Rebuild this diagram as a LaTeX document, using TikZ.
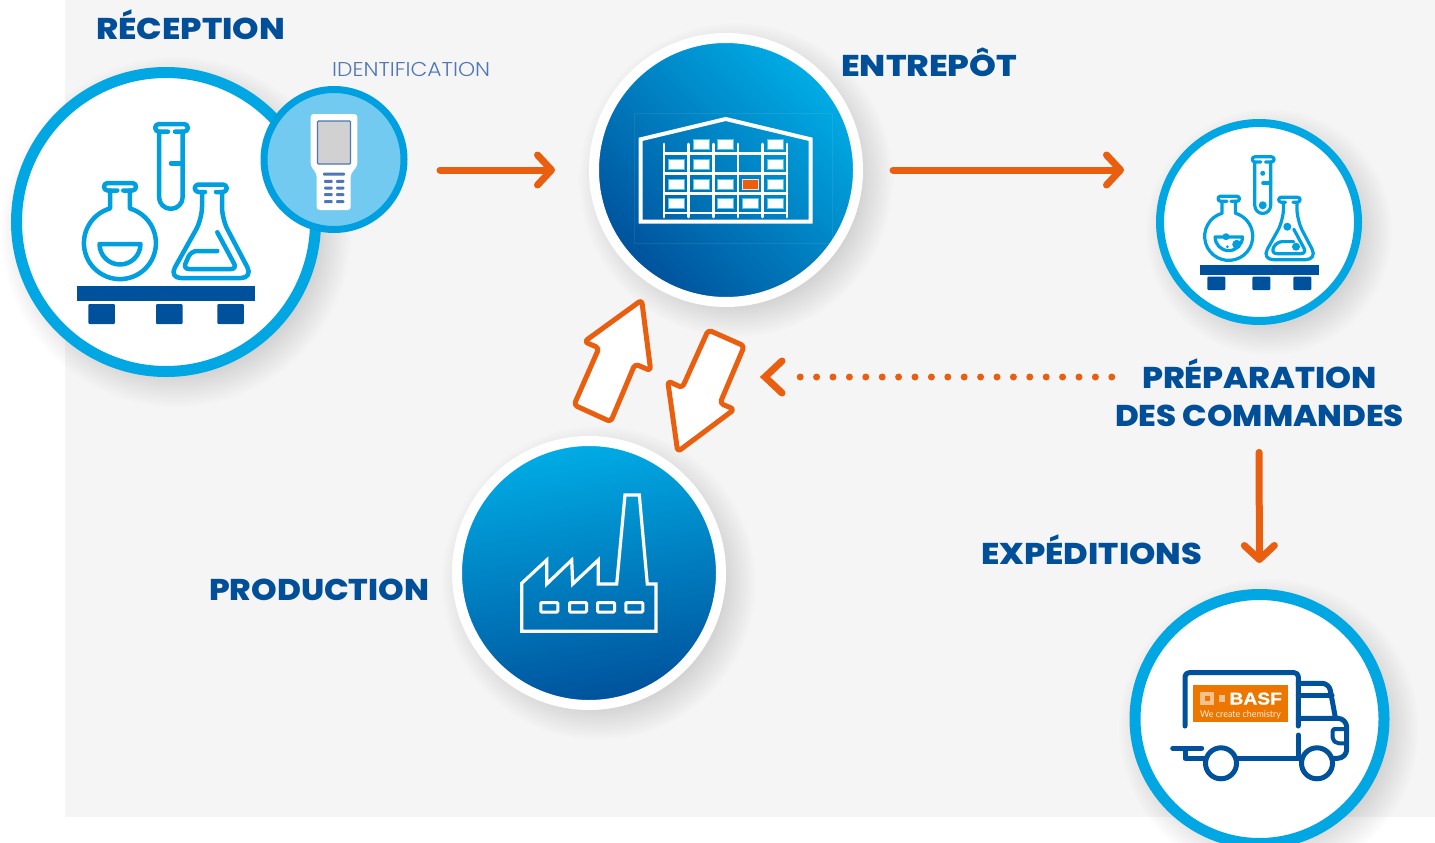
\documentclass[tikz,border=0pt]{standalone}
\usepackage{graphicx}
\usepackage{fontspec}
\setmainfont{Poppins}
\newfontfamily\headfont{Poppins}[UprightFont=* ExtraBold]
\newfontfamily\lightfont{Poppins}[UprightFont=* Light]
\newfontfamily\chemfont{Lato}
\newfontfamily\logofont{Liberation Sans}[UprightFont=* Bold,FakeBold=1]
\usetikzlibrary{arrows.meta,calc}
\definecolor{bgc}{HTML}{F5F5F5}
\definecolor{cyanr}{HTML}{00A7E3}
\definecolor{navyb}{HTML}{00519B}
\definecolor{head}{HTML}{004F98}
\definecolor{orangef}{HTML}{EA5F0F}
\definecolor{handc}{HTML}{73CAF0}
\definecolor{handr}{HTML}{009FE0}
\definecolor{handk}{HTML}{4F76B5}
\definecolor{gradl}{HTML}{00ADE6}
\definecolor{logo}{HTML}{EC7600}
\newcommand{\fitw}[2]{\resizebox{#1pt}{\height}{#2}}
\tikzset{
  x=1pt,y=-1pt,
  headtext/.style={font=\headfont\fontsize{30}{30}\selectfont,text=head,anchor=base west,inner sep=0pt},
  ringcirc/.style={circle,draw=cyanr,fill=white,inner sep=0pt,outer sep=0pt},
  gradcirc/.style={circle,draw=white,line width=10pt,minimum size=264pt,inner sep=0pt,outer sep=0pt},
  flow/.style={draw=orangef,line width=7pt,line cap=round,-{Straight Barb[length=14pt,width=30pt,line width=7pt,round]}},
  blockarrow/.style={draw=orangef,fill=white,line width=5pt,rounded corners=3.5pt,line join=round},
  glass/.style={draw=handr,line cap=round,line join=round},
  wline/.style={draw=white,line cap=round,line join=miter},
  truckline/.style={draw=navyb,line width=5pt,line cap=round,line join=round},
  cratebox/.style={draw=gradl!70!white,fill=white,line width=1pt},
}
\newcommand{\softshadow}[3]{%
  \foreach \k in {0,2,...,34}{%
    \fill[black,opacity=.0075] (#1,#2) circle[radius=#3+20-\k];
  }%
}
\newcommand{\flasksicon}[1]{%
  \begin{scope}[glass,line width=#1]
    % tube
    \draw (168,131.7) -- (159,131.7) arc[start angle=90,end angle=270,radius=3.85] -- (184,124) arc[start angle=-90,end angle=90,radius=3.85] -- (175,131.7);
    \draw (159,131.7) -- (159,197) arc[start angle=180,end angle=0,radius=11.85] -- (182.7,131.7);
    \draw (171,163.3) -- (182.7,163.3);
    % round flask
    \draw (117.3,190.5) -- (107.7,190.5) arc[start angle=90,end angle=270,radius=3.75] -- (132.3,183) arc[start angle=-90,end angle=90,radius=3.75] -- (123.3,190.5);
    \draw (110,190.5) -- (110,208.5) arc[start angle=254,end angle=-74,radius=36] -- (130,190.5);
    \draw (99.5,244) -- (140.5,244) arc[start angle=0,end angle=180,radius=20.5] -- cycle;
    % erlenmeyer
    \draw (205,192) -- (198.5,192) arc[start angle=90,end angle=270,radius=3.75] -- (223,184.5) arc[start angle=-90,end angle=90,radius=3.75] -- (216,192);
    \draw[rounded corners=12pt] (202,192) -- (202,219) -- (169,278) -- (253,278) -- (222,219) -- (222,192);
    \draw[rounded corners=6pt] (217.3,232.3) -- (237,269) -- (183,269) -- (191,251) -- (217.3,251);
  \end{scope}
}
\begin{document}
\begin{tikzpicture}
\useasboundingbox (0,0) rectangle (1435,843);
\fill[bgc] (65,0) rectangle (1435,817);
% shadows
\softshadow{176}{232}{155}
\softshadow{736}{180}{137}
\softshadow{1269}{232}{103}
\softshadow{599}{583}{137}
\softshadow{1269}{729}{130}

% main circles
\node[ringcirc,line width=11pt,minimum size=299pt] (recv) at (166,222) {};
\node[gradcirc,top color=gradl,bottom color=navyb,shading angle=-45] (store) at (726,170) {};
\node[ringcirc,line width=8pt,minimum size=198pt] (prep) at (1259,222) {};
\node[gradcirc,top color=gradl,bottom color=navyb,shading angle=10] (prod) at (589,573) {};
\node[ringcirc,line width=11pt,minimum size=249pt] (ship) at (1259.5,719) {};

% identification circle
\node[circle,draw=handr,fill=handc,line width=7pt,minimum size=140pt,inner sep=0pt,outer sep=0pt] (idc) at (334,159.5) {};
\fill[white,rounded corners=3pt] (310.7,114) -- (357.3,114) -- (357.3,166) -- (350.7,174) -- (350.7,210) -- (316.7,210) -- (316.7,174) -- (310.7,166) -- cycle;
\filldraw[fill=black!18,draw=handk,line width=1.1pt,rounded corners=1pt] (317.5,121) rectangle (350.5,164);
\fill[handk,rounded corners=1pt] (323,172.6) rectangle (345,175.6);
\foreach \ky in {181.3,188,194.7,201.7}{
  \fill[handk,rounded corners=1pt] (324,\ky-1.5) rectangle (332.7,\ky+1.5);
  \fill[handk,rounded corners=1pt] (336,\ky-1.5) rectangle (344.3,\ky+1.5);
}

% reception icon
\flasksicon{4.5pt}
\fill[navyb] (77,286) rectangle (255,300.7);
\foreach \fx in {88.3,156,217.3}{
  \fill[navyb,rounded corners=1pt] (\fx,304) rectangle (\fx+26.5,324);
}

% prep icon
\begin{scope}[shift={(1148.6,73.96)},scale=.668]
  \flasksicon{3.2pt}
\end{scope}
\fill[navyb] (1200,265) rectangle (1319,275);
\foreach \fx in {1207.3,1252.3,1293.3}{
  \fill[navyb,rounded corners=1pt] (\fx,276.7) rectangle (\fx+18,290);
}
\foreach \bx/\by/\br in {1262.7/173.3/2.5,1262.7/205.3/4,1226/236.7/3.5,1227.3/246.7/1.5,1236.7/244.3/4.5,1287.3/226.7/4,1296/246.7/4}{
  \fill[handr] (\bx,\by) circle[radius=\br];
}

% warehouse
\draw[white,opacity=.08,line width=.6pt] (634.7,113) rectangle (832.3,243);
\draw[wline,line width=4pt] (640.7,139.3) -- (725.7,119) -- (810.7,139.3) -- (810.7,221.7) -- (640.7,221.7) -- cycle;
\foreach \vx in {664,688.7,713.3,738,762.3,787}{
  \draw[wline,line width=2.8pt] (\vx,144) -- (\vx,217);
}
\foreach \hy in {153.3,173.3,193.3,212.7}{
  \draw[wline,line width=2.4pt] (664,\hy) -- (787,\hy);
}
\foreach \bx/\by in {701/144.7,725.7/144.7,775/144.7,676.3/164.3,701/164.3,775/164.3,676.3/184,701/184,725.7/184,775/184,676.3/203.3,725.7/203.3,750.3/203.3,775/203.3}{
  \filldraw[cratebox] (\bx-8,\by-5) rectangle (\bx+8,\by+5);
}
\filldraw[draw=white!80!orangef,fill=orangef,line width=1pt] (742.3,179) rectangle (758.3,189);

% factory
\draw[wline,line width=3.2pt] (521.7,583.3) -- (546.7,560) -- (546.7,584) -- (571.7,560) -- (572.7,584) -- (598.3,560) -- (598.3,584) -- (616.7,584) -- (625,495) -- (639.3,495) -- (647.3,584) -- (656,584) -- (656,631.3) -- (521.7,631.3) -- cycle;
\foreach \wx in {549.3,578,606,634.3}{
  \draw[wline,line width=3pt,rounded corners=1pt] (\wx-8.5,602.5) rectangle (\wx+8.5,612);
}

% truck
\fill[logo] (1193.3,685) rectangle (1288.3,722.3);
\fill[logo!45!white] (1200,691.7) rectangle (1214,705);
\fill[logo] (1204.5,695.5) rectangle (1209.5,701);
\fill[logo!45!white] (1219,695) rectangle (1225,701.7);
\node[font=\logofont\fontsize{17}{17}\selectfont,text=white,anchor=base west,inner sep=0pt] (basf) at (1229.3,704.5) {\fitw{52.4}{BASF}};
\node[font=\chemfont\fontsize{9.4}{10}\selectfont,text=white!90!logo,anchor=base west,inner sep=0pt] (chem) at (1200,717) {\fitw{80.7}{We create chemistry}};
\draw[truckline,rounded corners=4pt] (1185,726) -- (1185,672.7) -- (1298.3,672.7) -- (1298.3,726);
\draw[truckline] (1298.3,735) -- (1298.3,758.3);
\draw[truckline] (1172.7,748.3) -- (1201.7,748.3);
\draw[truckline] (1185,750) -- (1185,758.3) -- (1205,758.3);
\draw[truckline] (1237.3,758.3) -- (1301,758.3);
\draw[truckline] (1221,763.3) circle[radius=15.5];
\draw[truckline] (1317,763.3) circle[radius=15.5];
\draw[truckline,rounded corners=7pt] (1298.3,683.3) -- (1329,683.3) -- (1335.5,718.3);
\draw[truckline] (1298.3,695) -- (1332,695);
\draw[truckline,rounded corners=9pt] (1298.3,718.3) -- (1346.7,718.3) -- (1346.7,758.3) -- (1332,758.3);
\draw[truckline,line width=4pt,rounded corners=2pt] (1345,729) -- (1332.7,729) -- (1332.7,740) -- (1337,743.3) -- (1346,743.3);

% text
\node[headtext] (treception) at (96,40) {\fitw{189}{RÉCEPTION}};
\node[headtext] (tentrepot) at (841,77) {\fitw{176}{ENTREPÔT}};
\node[headtext,anchor=base] (tprep) at (1259.5,388) {\fitw{235}{PRÉPARATION}};
\node[headtext,anchor=base] (tcmd) at (1259.5,426) {\fitw{289}{DES COMMANDES}};
\node[headtext] (texp) at (981,564) {\fitw{221}{EXPÉDITIONS}};
\node[headtext] (tprod) at (209,600) {\fitw{220}{PRODUCTION}};
\node[font=\lightfont\fontsize{20}{20}\selectfont,text=handk,anchor=base west,inner sep=0pt] (tident) at (332,77) {\fitw{158}{IDENTIFICATION}};

% connectors
\coordinate (dothead) at (765,377);
\draw[flow,shorten <=36pt,shorten >=39pt] (idc.east |- store.west) -- (store.west);
\draw[flow,shorten <=35pt,shorten >=36pt] (store.east) -- (store.east -| prep.west);
\draw[flow,shorten <=26pt,shorten >=31.5pt] (tcmd.south -| prep.south) -- (ship.north);
\draw[draw=orangef,line width=7pt,line cap=round,dash pattern=on 0pt off 16.4pt] (tcmd.west |- dothead) ++(-3,0) -- ([xshift=25pt]dothead);
\draw[flow,-] (782,361) -- (dothead) -- (782,393);

% block arrows
\draw[blockarrow] (641.7,300) -- (650.7,370.7) -- (635,364) -- (610.7,421.7) -- (574,405) -- (599,348) -- (584.3,341.7) -- cycle;
\draw[blockarrow] (708.3,330) -- (744.3,346) -- (720,403.3) -- (734.3,409.3) -- (677.7,451.7) -- (667.7,381) -- (682.3,387.7) -- cycle;
\end{tikzpicture}
\end{document}
